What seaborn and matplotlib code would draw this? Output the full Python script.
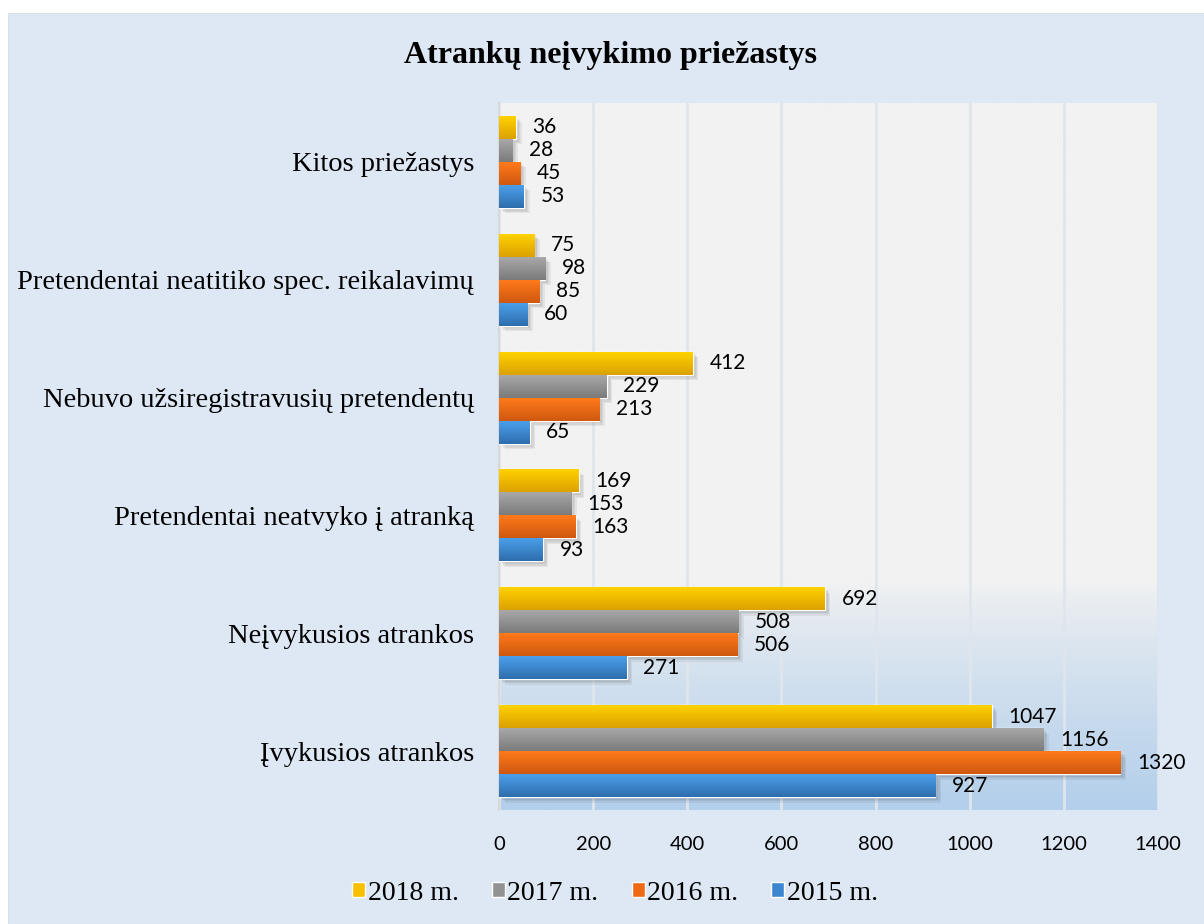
import numpy as np
import pandas as pd
import matplotlib
matplotlib.use("Agg")
import matplotlib.pyplot as plt
import matplotlib.patheffects as pe
from matplotlib.colors import to_rgb
from matplotlib.patches import Rectangle
import seaborn as sns

categories = ["Kitos priežastys",
              "Pretendentai neatitiko spec. reikalavimų",
              "Nebuvo užsiregistravusių pretendentų",
              "Pretendentai neatvyko į atranką",
              "Neįvykusios atrankos",
              "Įvykusios atrankos"]
series = ["2018 m.", "2017 m.", "2016 m.", "2015 m."]
v2018 = [36, 75, 412, 169, 692, 1047]
v2017 = [28, 98, 229, 153, 508, 1156]
v2016 = [45, 85, 213, 163, 506, 1320]
v2015 = [53, 60, 65, 93, 271, 927]
xticks = [0, 200, 400, 600, 800, 1000, 1200, 1400]
title = "Atrankų neįvykimo priežastys"

colors_top = ["#ffd200", "#a8a8a8", "#ff7a1a", "#4b9fea"]
colors_bot = ["#dba100", "#7b7b7b", "#cf5810", "#2e6eae"]
colors_mid = ["#f7c000", "#929292", "#ee6a14", "#3d87cf"]

df = pd.DataFrame({
    "category": categories * 4,
    "value": v2018 + v2017 + v2016 + v2015,
    "year": sum([[s] * len(categories) for s in series], []),
})

sns.set_theme(style="white")
plt.rcParams["font.family"] = ["Liberation Serif", "DejaVu Serif"]
plt.rcParams["text.color"] = "black"
plt.rcParams["xtick.color"] = "black"
plt.rcParams["ytick.color"] = "black"

SERIF = ["Liberation Serif", "DejaVu Serif"]
SANS = ["Lato", "DejaVu Sans"]

fig = plt.figure(figsize=(12.04, 9.24), dpi=100)
fig.patch.set_facecolor("white")
fig.patches.append(Rectangle((8 / 1204, 0), 1 - 8 / 1204, 1 - 13 / 924,
                             transform=fig.transFigure, facecolor="#dde8f4",
                             edgecolor="#d8e0ea", lw=0.8, zorder=-10))

ax = fig.add_axes([499 / 1204, 1 - 810 / 924, (1158 - 499) / 1204, (810 - 103) / 924])
ax.set_facecolor("#f2f2f2")

sns.barplot(data=df, y="category", x="value", hue="year", hue_order=series,
            order=categories, palette=colors_mid, orient="h", width=0.78,
            ax=ax, saturation=1, legend=True, zorder=3)

# background gradient of plot area
n = 256
t = np.linspace(0, 1, n)
start = 0.68
w = np.clip((t - start) / (1 - start), 0, 1) ** 0.8
c0 = np.array(to_rgb("#f2f2f2"))
c1 = np.array(to_rgb("#b3cfeb"))
grad = (c0[None, :] * (1 - w[:, None]) + c1[None, :] * w[:, None])[:, None, :]
ax.imshow(grad, extent=(0, 1, 0, 1), transform=ax.transAxes, aspect="auto",
          zorder=0, origin="upper")

# bar gradients + soft shadow
shadow = [pe.SimplePatchShadow(offset=(k, -k), shadow_rgbFace="#000000", alpha=0.06)
          for k in (1, 2, 3, 4)] + [pe.Normal()]
for ci, cont in enumerate(ax.containers):
    top = np.array(to_rgb(colors_top[ci]))
    bot = np.array(to_rgb(colors_bot[ci]))
    g = np.linspace(0, 1, 64)[:, None]
    img = (top[None, :] * (1 - g) + bot[None, :] * g)[:, None, :]
    for p in cont.patches:
        p.set_path_effects(shadow)
        x0, y0 = p.get_x(), p.get_y()
        wdt, hgt = p.get_width(), p.get_height()
        im = ax.imshow(img, extent=(x0, x0 + wdt, y0 + hgt, y0), aspect="auto",
                       zorder=3.5, origin="upper")
        im.set_clip_path(p)
    ax.bar_label(cont, padding=12, fontsize=15, family=SANS, color="#000000")

ax.set_xlim(0, 1400)
ax.set_ylim(len(categories) - 0.5, -0.5)
ax.set_xticks(xticks)
ax.set_xticklabels([str(v) for v in xticks], family=SANS, fontsize=14.5)
ax.tick_params(axis="x", length=0, pad=19, colors="#000000")
ax.tick_params(axis="y", length=0, pad=18, labelsize=20.5, colors="#000000")
for lbl in ax.get_yticklabels():
    lbl.set_family(SERIF)
ax.set_xlabel("")
ax.set_ylabel("")
ax.grid(axis="x", color="#dfe5ec", lw=2, zorder=1)
ax.set_axisbelow(True)
for s in ["top", "right", "bottom"]:
    ax.spines[s].set_visible(False)
ax.spines["left"].set_color("#d9d9d9")
ax.spines["left"].set_linewidth(1.5)

# legend
leg = ax.get_legend()
handles = leg.legend_handles
leg.remove()
fig.legend(handles, series, loc="center", bbox_to_anchor=(615 / 1204, 1 - 893 / 924),
           ncol=4, frameon=False, handlelength=0.47, handleheight=0.47,
           handletextpad=0.08, columnspacing=1.2,
           prop={"family": SERIF, "size": 20})

fig.text(611 / 1204, 1 - 55 / 924, title, ha="center", va="center",
         fontsize=23, fontweight="bold", family=SERIF, color="black")

fig.savefig("out.png", dpi=100, facecolor=fig.get_facecolor())
